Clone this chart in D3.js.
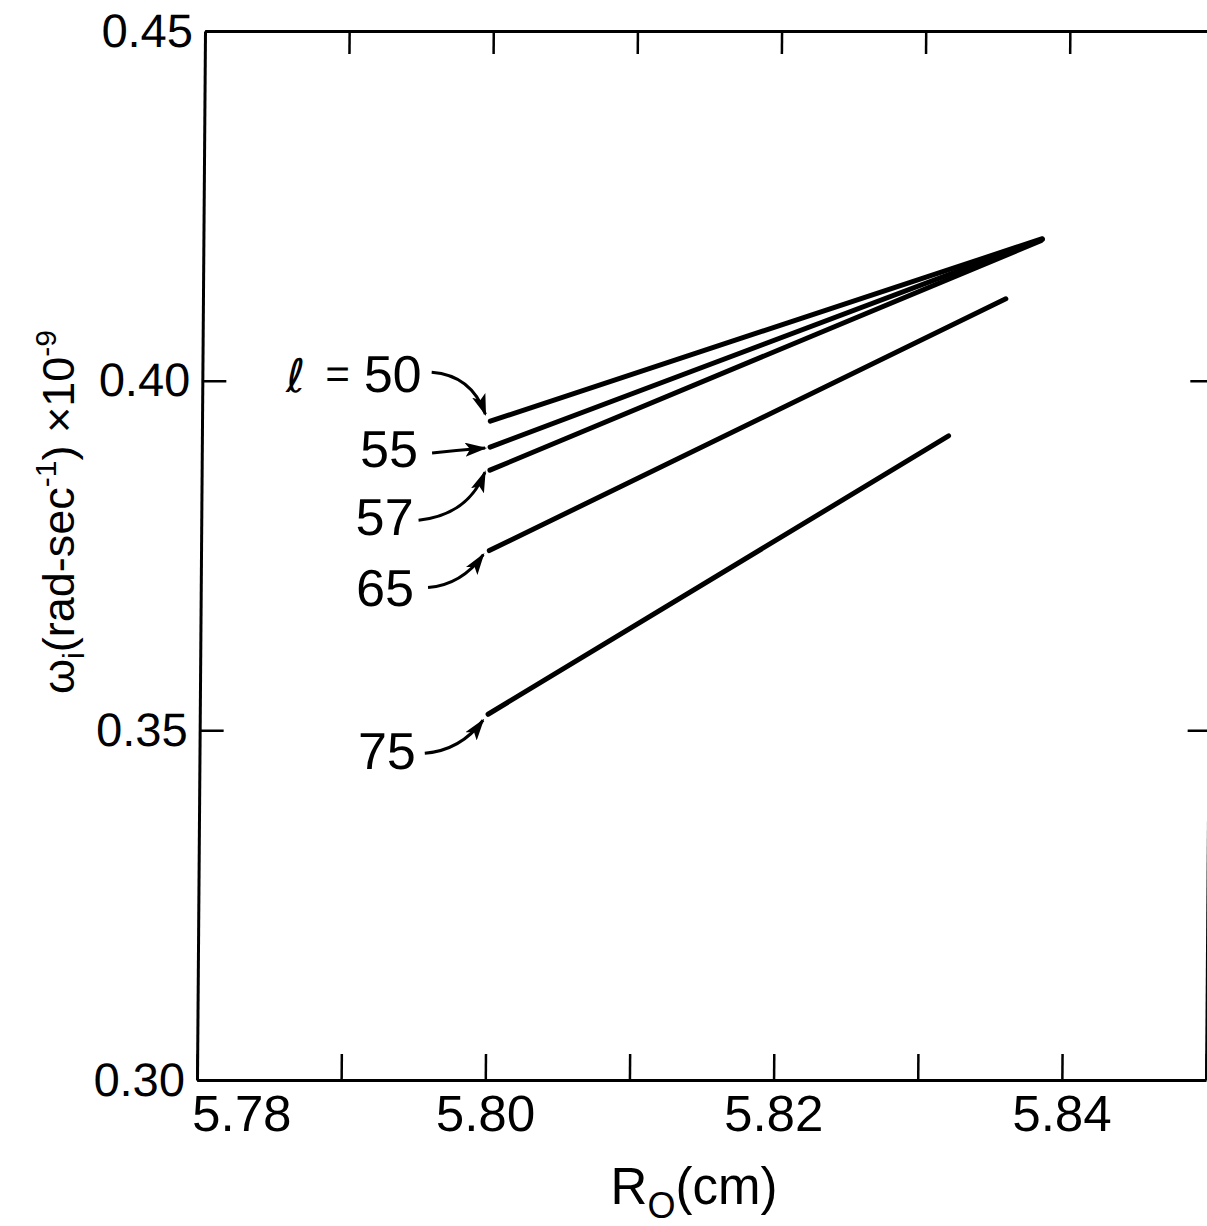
<!DOCTYPE html>
<html>
<head>
<meta charset="utf-8">
<script src="https://cdn.jsdelivr.net/npm/d3@7"></script>
<style>
  html, body { margin: 0; padding: 0; background: #fff; }
  svg { display: block; }
</style>
</head>
<body>
<div id="chart"></div>
<script>
// azimuthal mode number and the end points of each computed line
const modes = [50, 55, 57, 65, 75];
const r0Start = [5.800, 5.800, 5.800, 5.800, 5.800];
const wStart = [0.3942, 0.3905, 0.3872, 0.3757, 0.3523];
const r0End = [5.8382, 5.8382, 5.8381, 5.8357, 5.8318];
const wEnd = [0.4203, 0.4202, 0.4200, 0.4117, 0.3921];

const xTicks = [5.78, 5.79, 5.80, 5.81, 5.82, 5.83, 5.84, 5.85];
const xLabelled = [5.78, 5.80, 5.82, 5.84];
const yTicks = [0.30, 0.35, 0.40, 0.45];
const yRightTicks = [0.35, 0.40];

// label / arrow placement, pixel offsets from the start of each line
const callouts = [
    {label: [-69, -29], from: [-59, -49], ctrl: [-19, -46], tip: [-5, -7]},
    {label: [-72, 20], from: [-58, 6], ctrl: [-30, 3], tip: [-5, 1]},
    {label: [-76, 65], from: [-71, 50], ctrl: [-22, 45], tip: [-5, 2]},
    {label: [-75, 55], from: [-61, 37], ctrl: [-27, 34], tip: [-6, 4]},
    {label: [-72, 55], from: [-63, 39], ctrl: [-27, 36], tip: [-5, 6]}
];

const width = 1207, height = 1226;
const plotLeft = 197, plotRight = 1206, plotTop = 31, plotBottom = 1080;
const font = "'Liberation Sans', Arial, sans-serif";

const x = d3.scaleLinear().domain([5.78, 5.85]).range([plotLeft, plotRight]);
const y = d3.scaleLinear().domain([0.30, 0.45]).range([plotBottom, plotTop]);

const svg = d3.select("#chart").append("svg")
    .attr("width", width)
    .attr("height", height)
    .style("font-family", font);

svg.append("defs").append("marker")
    .attr("id", "head")
    .attr("viewBox", "0 0 22 14")
    .attr("refX", 20)
    .attr("refY", 7)
    .attr("markerUnits", "userSpaceOnUse")
    .attr("markerWidth", 22)
    .attr("markerHeight", 14)
    .attr("orient", "auto")
    .append("path")
    .attr("d", "M0,0L22,7L0,14L5,7Z")
    .attr("fill", "#000");

// the scanned figure leans a little, so shear the plot group slightly
const g = svg.append("g")
    .attr("transform", `translate(0,${plotBottom}) skewX(-0.437) translate(0,${-plotBottom})`);

function styleAxis(sel) {
    sel.select(".domain").attr("stroke", "#000").attr("stroke-width", 3);
    sel.selectAll(".tick line").attr("stroke", "#000").attr("stroke-width", 2.5);
    sel.selectAll("text").attr("fill", "#000").style("font-family", font);
}

g.append("g")
    .attr("transform", `translate(0,${plotBottom})`)
    .call(d3.axisBottom(x)
        .tickValues(xTicks)
        .tickSizeInner(-26)
        .tickSizeOuter(0)
        .tickPadding(15)
        .tickFormat(d => xLabelled.some(v => Math.abs(v - d) < 1e-9) ? d3.format(".2f")(d) : ""))
    .call(styleAxis)
    .call(s => s.selectAll("text").style("font-size", "51px"))
    .call(s => s.selectAll(".tick").filter(d => Math.abs(d - 5.78) < 1e-9)
        .select("text").attr("text-anchor", "start").attr("x", -5));

g.append("g")
    .attr("transform", `translate(0,${plotTop})`)
    .call(d3.axisTop(x)
        .tickValues(xTicks.slice(1, -1))
        .tickSizeInner(-23)
        .tickSizeOuter(0)
        .tickFormat(""))
    .call(styleAxis);

g.append("g")
    .attr("transform", `translate(${plotLeft},0)`)
    .call(d3.axisLeft(y)
        .tickValues(yTicks)
        .tickSizeInner(-24)
        .tickSizeOuter(0)
        .tickPadding(12)
        .tickFormat(d3.format(".2f")))
    .call(styleAxis)
    .call(s => s.selectAll("text").style("font-size", "47px"));

g.append("g")
    .attr("transform", `translate(${plotRight},0)`)
    .call(d3.axisRight(y)
        .tickValues(yRightTicks)
        .tickSizeInner(-21)
        .tickSizeOuter(0)
        .tickFormat(""))
    .call(styleAxis);

// curves
const rows = modes.map((m, i) => ({
    m, c: callouts[i],
    a: [x(r0Start[i]), y(wStart[i])],
    b: [x(r0End[i]), y(wEnd[i])]
}));

g.append("g")
    .attr("stroke", "#000")
    .attr("stroke-width", 5)
    .attr("stroke-linecap", "round")
    .selectAll("line")
    .data(rows)
    .join("line")
    .attr("x1", d => d.a[0])
    .attr("y1", d => d.a[1])
    .attr("x2", d => d.b[0])
    .attr("y2", d => d.b[1]);

// labels with arrows
const ann = g.append("g");

ann.selectAll("path")
    .data(rows)
    .join("path")
    .attr("fill", "none")
    .attr("stroke", "#000")
    .attr("stroke-width", 3)
    .attr("marker-end", "url(#head)")
    .attr("d", d => {
        const [sx, sy] = d.a, c = d.c;
        return `M${sx + c.from[0]},${sy + c.from[1]}Q${sx + c.ctrl[0]},${sy + c.ctrl[1]} ${sx + c.tip[0]},${sy + c.tip[1]}`;
    });

ann.selectAll("text.mode")
    .data(rows)
    .join("text")
    .attr("class", "mode")
    .attr("x", d => d.a[0] + d.c.label[0])
    .attr("y", d => d.a[1] + d.c.label[1])
    .attr("text-anchor", "end")
    .style("font-size", "52px")
    .text(d => d.m);

const first = rows[0];
ann.append("text")
    .attr("x", first.a[0] + first.c.label[0] - 126)
    .attr("y", first.a[1] + first.c.label[1])
    .attr("text-anchor", "middle")
    .style("font-family", "'DejaVu Sans', sans-serif")
    .style("font-size", "46px")
    .text("\u2113");

ann.append("text")
    .attr("x", first.a[0] + first.c.label[0] - 84)
    .attr("y", first.a[1] + first.c.label[1] - 4)
    .attr("text-anchor", "middle")
    .style("font-size", "42px")
    .text("=");

// axis titles
svg.append("text")
    .attr("x", 694)
    .attr("y", 1204)
    .attr("text-anchor", "middle")
    .style("font-size", "51px")
    .call(t => {
        t.append("tspan").text("R");
        t.append("tspan").attr("dy", 14).style("font-size", "36px").text("O");
        t.append("tspan").attr("dy", -14).text("(cm)");
    });

svg.append("text")
    .attr("transform", "translate(74,512) rotate(-90)")
    .attr("text-anchor", "middle")
    .style("font-size", "45px")
    .call(t => {
        t.append("tspan").text("\u03c9");
        t.append("tspan").attr("dy", 10).style("font-size", "30px").text("i");
        t.append("tspan").attr("dy", -10).text("(rad-sec");
        t.append("tspan").attr("dy", -18).style("font-size", "30px").text("-1");
        t.append("tspan").attr("dy", 18).text(") \u00d710");
        t.append("tspan").attr("dy", -18).style("font-size", "30px").text("-9");
    });
</script>
</body>
</html>
